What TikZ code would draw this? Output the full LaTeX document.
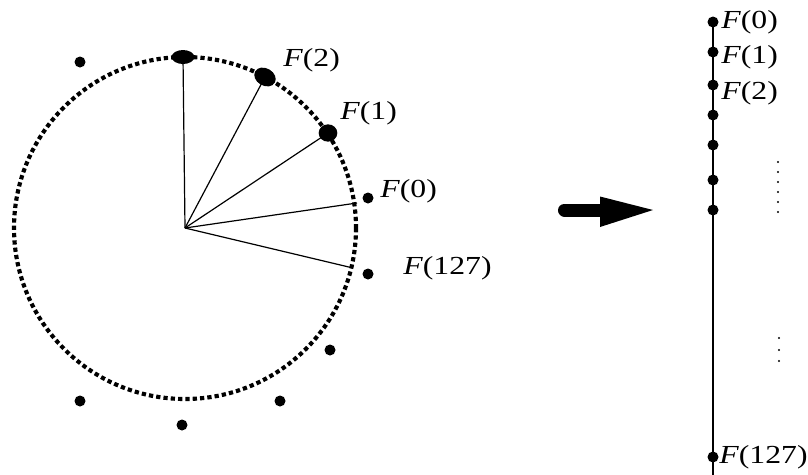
\documentclass[tikz,border=0pt]{standalone}
\usepackage{fontspec}
\setmainfont{Liberation Serif}
\usepackage{graphicx}
\usetikzlibrary{shapes.geometric}
\newcommand{\flab}[1]{\scalebox{1.22}[1]{\textit{F}(#1)}}
\begin{document}
\begin{tikzpicture}[x=0.75pt,y=-0.75pt,
  dotnode/.style={circle,fill=black,inner sep=0pt,minimum size=8.25pt},
  bigdot/.style={ellipse,fill=black,inner sep=0pt},
  lbl/.style={anchor=west,inner sep=0pt,font=\fontsize{19.5}{21}\selectfont},
  spoke/.style={line width=0.9pt},
  tiny/.style={circle,fill=black,inner sep=0pt,minimum size=1.6pt}]
\useasboundingbox (0,0) rectangle (808,475);
% circle
\coordinate (O) at (185,228);
\draw[line width=3.1pt,dash pattern=on 3.2pt off 2.3pt] (O) circle[radius=171];
% points on the circle
\node[bigdot,minimum width=17pt,minimum height=10.5pt] (T) at (183,57) {};
\node[bigdot,minimum width=17pt,minimum height=13pt,rotate=-30] (P2) at (265,77) {};
\node[bigdot,minimum width=14pt,minimum height=13pt] (P1) at (328,133) {};
\coordinate (P0) at (357,203);
\coordinate (P127) at (353,268);
\draw[spoke] (O) -- (T.center);
\draw[spoke] (O) -- (P2.center);
\draw[spoke] (O) -- (P1.center);
\draw[spoke] (O) -- (P0);
\draw[spoke] (O) -- (P127);
% outer dots
\node[dotnode] (d1) at (80,62) {};
\node[dotnode] (d2) at (368,198) {};
\node[dotnode] (d3) at (368,274) {};
\node[dotnode] (d4) at (330,350) {};
\node[dotnode] (d5) at (280,401) {};
\node[dotnode] (d6) at (182,425) {};
\node[dotnode] (d7) at (80,401) {};
% labels left
\node[lbl] (l2) at (283,60) {\flab{2}};
\node[lbl] (l1) at (340,113) {\flab{1}};
\node[lbl] (l0) at (380,191) {\flab{0}};
\node[lbl] (l127) at (403,268) {\flab{127}};
% arrow
\draw[line width=9.75pt,line cap=round] (564.5,210) -- (602,210);
\fill (600,196.5) -- (653,210) -- (600,227) -- cycle;
% right column
\coordinate (bot) at (713,475);
\node[dotnode] (r0) at (713,22) {};
\node[dotnode] (r1) at (713,52) {};
\node[dotnode] (r2) at (713,85) {};
\node[dotnode] (r3) at (713,115) {};
\node[dotnode] (r4) at (713,145) {};
\node[dotnode] (r5) at (713,180) {};
\node[dotnode] (r6) at (713,210) {};
\node[dotnode] (r127) at (713,457) {};
\draw[line width=1.1pt] (r0.center) -- (bot);
\node[lbl] (rl0) at (721,22) {\flab{0}};
\node[lbl] (rl1) at (721,57) {\flab{1}};
\node[lbl] (rl2) at (721,93) {\flab{2}};
\node[lbl] (rl127) at (719,457) {\flab{127}};
% vertical ellipsis
\foreach \y [count=\i] in {162,172,182,192,202,212} \node[tiny] (e\i) at (778,\y) {};
\foreach \y [count=\i] in {338,350,361} \node[tiny] (f\i) at (779,\y) {};
\end{tikzpicture}
\end{document}
